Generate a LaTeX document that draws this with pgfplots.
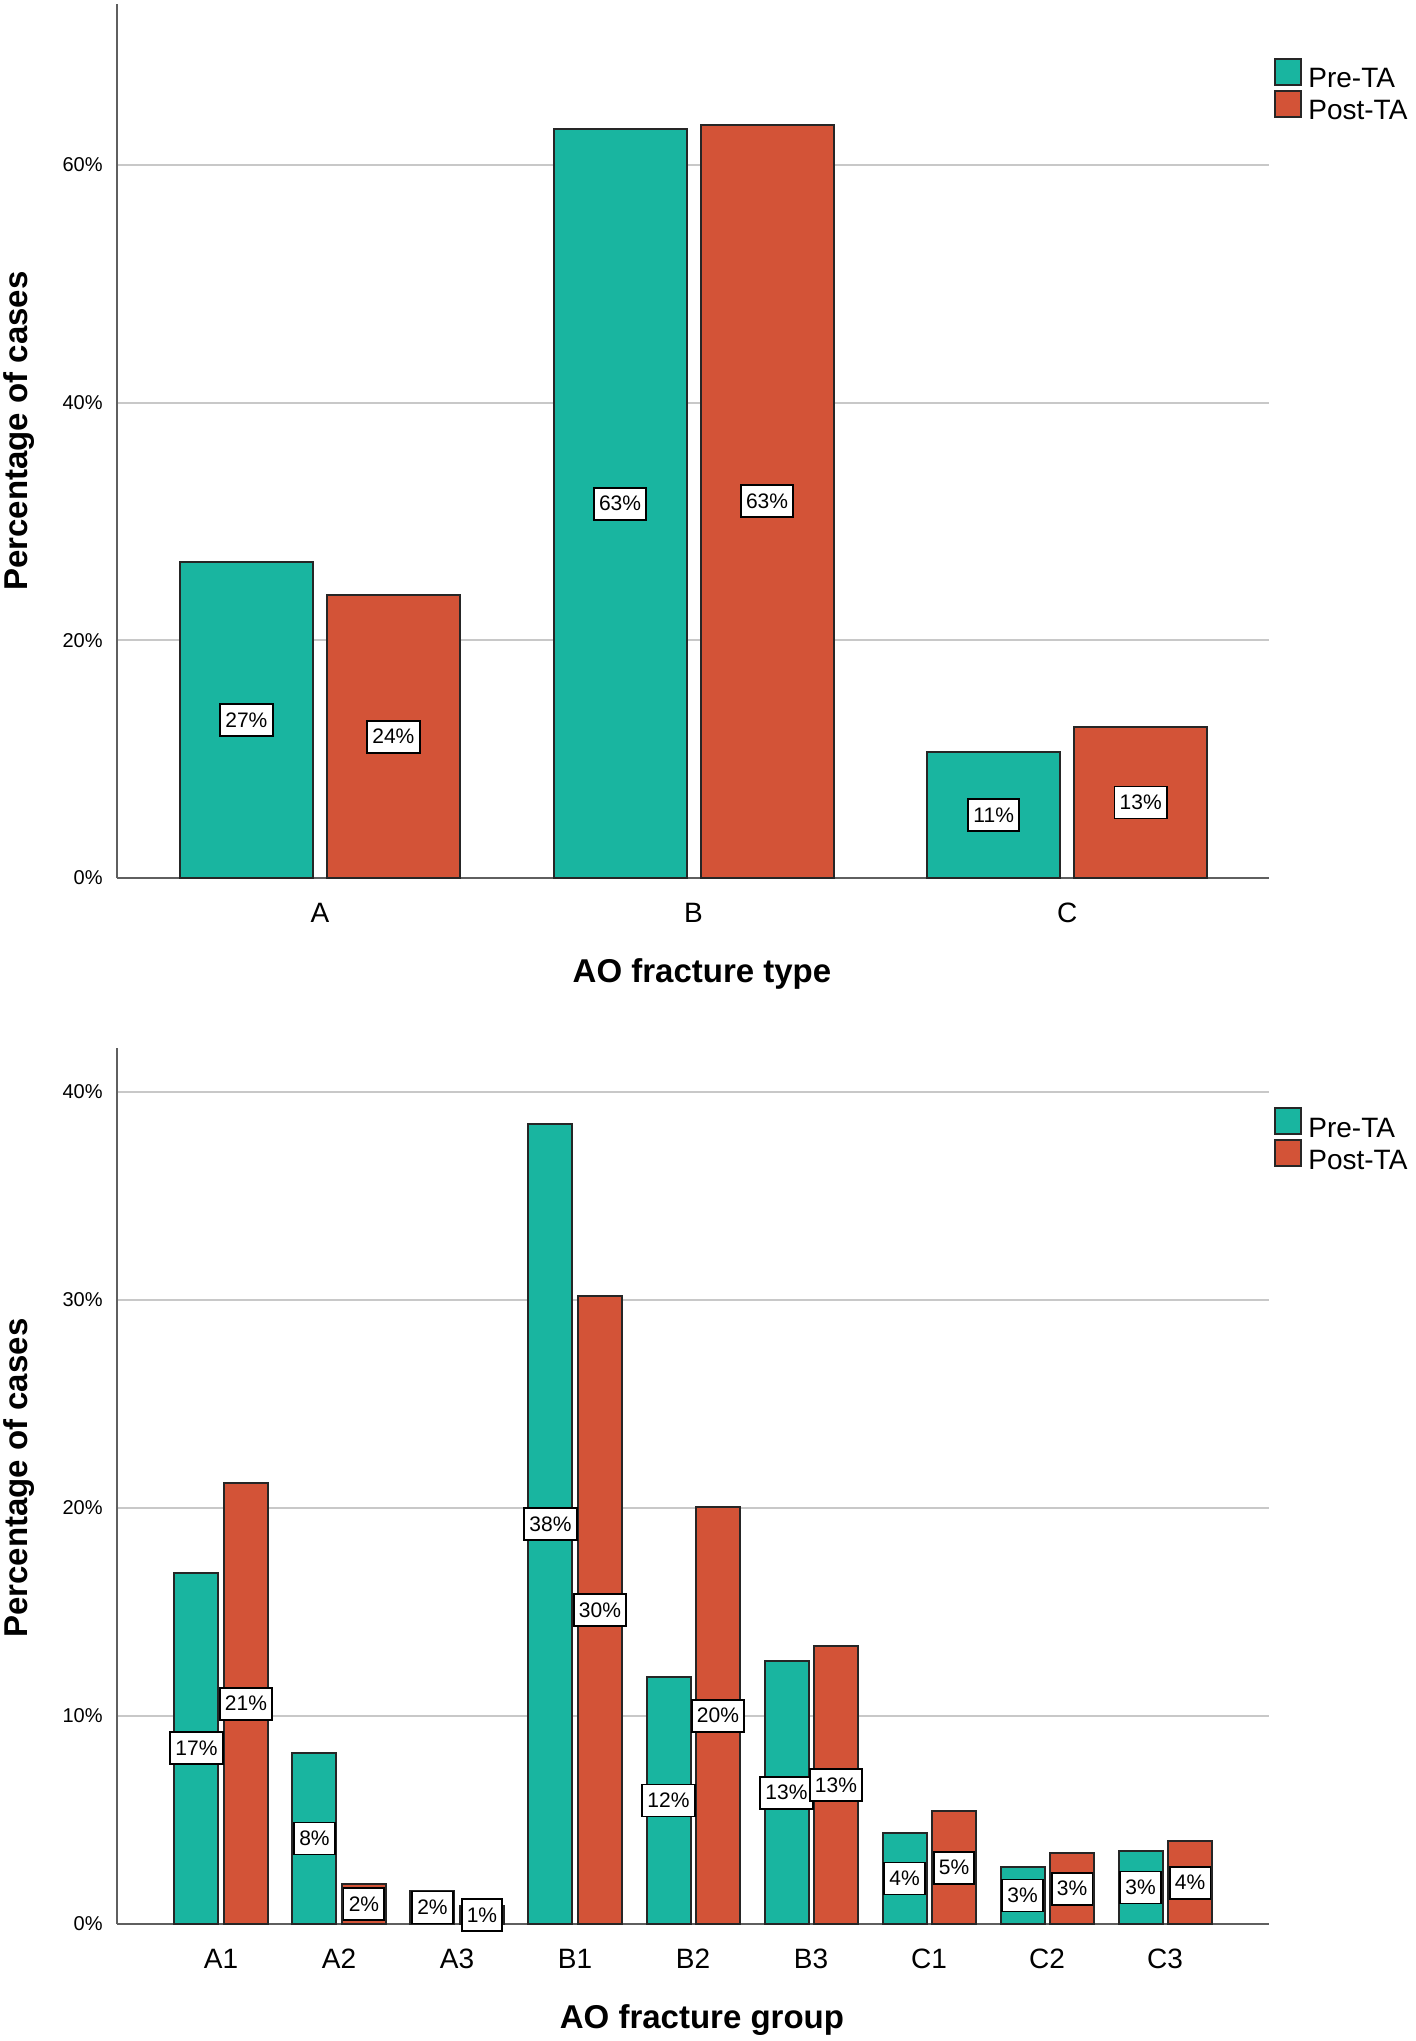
\documentclass[border=0pt]{standalone}
\usepackage{pgfplots}
\pgfplotsset{compat=1.18}
\usepackage{pgfplotstable}
\usepackage{fontspec}
\setmainfont{Liberation Sans}
\definecolor{preC}{RGB}{25,181,160}
\definecolor{postC}{RGB}{211,83,55}
\definecolor{gridC}{RGB}{200,200,200}
\definecolor{axC}{RGB}{95,95,95}

\pgfplotstableread{
x y lab
0 26.6 27
1 63.0 63
2 10.6 11
}\topPre
\pgfplotstableread{
x y lab
0 23.8 24
1 63.4 63
2 12.7 13
}\topPost
\pgfplotstableread{
x y lab
0 16.89 17
1 8.23 8
2 1.58 2
3 38.46 38
4 11.87 12
5 12.63 13
6 4.38 4
7 2.75 3
8 3.51 3
}\botPre
\pgfplotstableread{
x y lab
0 21.18 21
1 1.94 2
2 0.86 1
3 30.2 30
4 20.02 20
5 13.35 13
6 5.42 5
7 3.39 3
8 3.97 4
}\botPost

\pgfplotsset{
  common/.style={
    scale only axis, width=576pt,
    /pgf/number format/assume math mode=true,
    axis x line*=bottom, axis y line*=left,
    axis line style={axC, line width=1pt, -},
    major tick length=0pt,
    ymajorgrids, major grid style={gridC, line width=1pt},
    ymin=0, clip=false,
    yticklabel style={anchor=east, inner sep=0pt, xshift=-7pt, font=\fontsize{10}{12}\selectfont},
    xticklabel style={anchor=base, inner sep=0pt, yshift=-22pt, font=\fontsize{14}{16}\selectfont},
    xlabel style={anchor=base, inner sep=0pt, font=\bfseries\fontsize{16.5}{19}\selectfont},
    ylabel style={anchor=north, inner sep=0pt, font=\bfseries\fontsize{16.5}{19}\selectfont},
    ybar, point meta=explicit symbolic,
    nodes near coords={\pgfplotspointmeta\%},
    nodes near coords align={center},
    legend style={draw=none, fill=none, inner sep=0pt, row sep=-4pt,
      anchor=north west, font=\fontsize{14}{16}\selectfont,
      nodes={inner xsep=0pt, inner ysep=0pt, text height=11pt, text depth=5pt},
      /tikz/every odd column/.style={column sep=3pt}},
    legend cell align=left,
    legend image code/.code={\draw[fill=\pgfkeysvalueof{/pgfplots/legfill}, draw=black!85, line width=1pt] (0pt,-1.5pt) rectangle (13pt,11.5pt);},
  },
  legfill/.initial=white,
  lab/.style={every node near coord/.append style={anchor=center, draw=black, fill=white,
      line width=0.9pt, inner xsep=2.6pt, inner ysep=4pt, text height=7.6pt, text depth=0.4pt,
      font=\fontsize{10.5}{12}\selectfont, text=black, yshift=\labshift pt}},
}

\begin{document}
\begin{tikzpicture}
\path[use as bounding box] (0,0) rectangle (708pt,-1020.5pt);

% ---------- top chart ----------
\begin{axis}[common,
  at={(58.5pt,-439pt)}, anchor=south west,
  height=437pt,
  xmin=-0.543, xmax=2.54, ymax=73.55,
  bar width=66.5pt,
  xtick={0,1,2}, xticklabels={A,B,C},
  ytick={0,20,40,60}, yticklabels={0\%,20\%,40\%,60\%},
  xlabel={AO fracture type}, ylabel={Percentage of cases},
  xlabel style={at={(axis description cs:0.5078,-0.1201)}},
  ylabel style={at={(axis description cs:-0.099,0.5114)}},
  legend style={at={(axis description cs:1.0043,0.939)}},
  visualization depends on={-0.5*\thisrow{y}*5.9415 \as \labshift},
]
\addplot[fill=preC, draw=black!85, line width=1pt, bar shift=-36.75pt, lab, legfill=preC] table[x=x,y=y,meta=lab] {\topPre};
\addplot[fill=postC, draw=black!85, line width=1pt, bar shift=36.75pt, lab, legfill=postC] table[x=x,y=y,meta=lab] {\topPost};
\legend{Pre-TA,Post-TA}
\end{axis}

% ---------- bottom chart ----------
\begin{axis}[common,
  at={(58.5pt,-962pt)}, anchor=south west,
  height=438pt,
  xmin=-0.881, xmax=8.881, ymax=42.1,
  bar width=22pt,
  xtick={0,1,2,3,4,5,6,7,8}, xticklabels={A1,A2,A3,B1,B2,B3,C1,C2,C3},
  ytick={0,10,20,30,40}, yticklabels={0\%,10\%,20\%,30\%,40\%},
  xlabel={AO fracture group}, ylabel={Percentage of cases},
  xlabel style={at={(axis description cs:0.5078,-0.1187)}},
  ylabel style={at={(axis description cs:-0.099,0.509)}},
  legend style={at={(axis description cs:1.0043,0.933)}},
  visualization depends on={-0.5*\thisrow{y}*10.404 \as \labshift},
]
\addplot[fill=preC, draw=black!85, line width=1pt, bar shift=-12.25pt, lab, legfill=preC] table[x=x,y=y,meta=lab] {\botPre};
\addplot[fill=postC, draw=black!85, line width=1pt, bar shift=12.5pt, lab, legfill=postC] table[x=x,y=y,meta=lab] {\botPost};
\legend{Pre-TA,Post-TA}
\end{axis}
\end{tikzpicture}
\end{document}
